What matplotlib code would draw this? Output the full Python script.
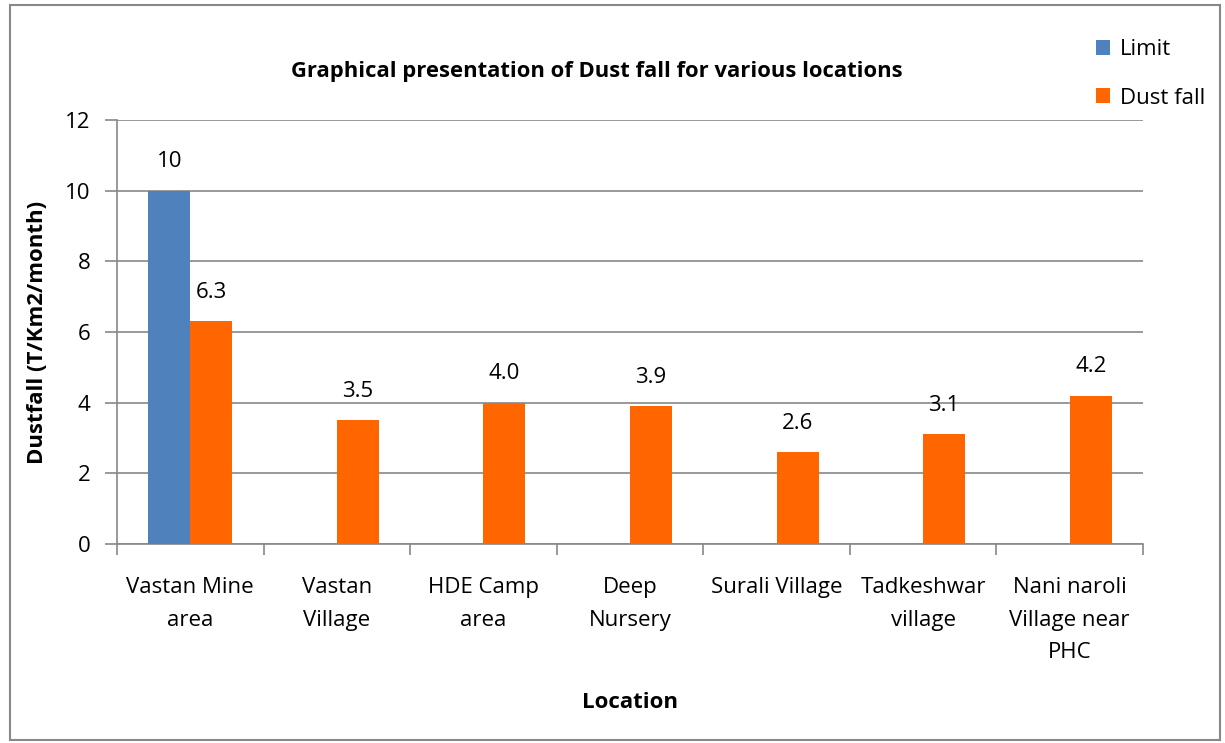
import matplotlib
matplotlib.use('Agg')
import matplotlib.pyplot as plt
import numpy as np

locations = ["Vastan Mine\narea", "Vastan\nVillage", "HDE Camp\narea", "Deep\nNursery",
             "Surali Village", "Tadkeshwar\nvillage", "Nani naroli\nVillage near\nPHC"]
limit = [10, np.nan, np.nan, np.nan, np.nan, np.nan, np.nan]
dust_fall = [6.3, 3.5, 4.0, 3.9, 2.6, 3.1, 4.2]

plt.rcParams['font.family'] = ['Open Sans', 'DejaVu Sans']

fig = plt.figure(figsize=(12.25, 7.43), dpi=100)
ax = fig.add_axes([117/1225, 1 - 544/743, (1143-117)/1225, (544-120)/743])

ind = np.arange(len(locations))
w = 0.287
b1 = ax.bar(ind - w/2, limit, w, color='#4F81BD', label='Limit', zorder=3)
b2 = ax.bar(ind + w/2, dust_fall, w, color='#FF6600', label='Dust fall', zorder=3)

for i, v in enumerate(limit):
    if not np.isnan(v):
        ax.text(ind[i] - w/2, v + 0.52, f"{v:g}", ha='center', va='bottom', fontsize=16)
for i, v in enumerate(dust_fall):
    ax.text(ind[i] + w/2, v + 0.52, f"{v:.1f}", ha='center', va='bottom', fontsize=16)

ax.set_xlim(-0.5, len(locations) - 0.5)
ax.set_ylim(0, 12)
ax.set_yticks(range(0, 13, 2))
ax.set_xticks(np.arange(-0.5, len(locations), 1), minor=False)
ax.set_xticklabels([])
ax.set_xticks(ind, minor=True)
ax.set_xticklabels(locations, minor=True, fontsize=16, linespacing=1.7, va='top')
ax.tick_params(axis='x', which='minor', length=0, pad=24)
ax.tick_params(axis='x', which='major', length=8, color='#888888', width=1.2, direction='out')
ax.tick_params(axis='y', length=9, color='#888888', width=1.2, labelsize=16, pad=10)

ax.yaxis.grid(True, color='#888888', linewidth=1.2, zorder=0)
for s in ['top', 'right']:
    ax.spines[s].set_visible(False)
for s in ['left', 'bottom']:
    ax.spines[s].set_color('#888888')
    ax.spines[s].set_linewidth(1.2)

ax.set_ylabel("Dustfall (T/Km2/month)", fontsize=16, fontweight='bold', labelpad=12)
ax.set_xlabel("Location", fontsize=16, fontweight='bold', labelpad=21)
fig.text(597/1225, 1 - 71/743, "Graphical presentation of Dust fall for various locations",
         ha='center', va='center', fontsize=15.8, fontweight='bold')

fig.legend(handles=[b1, b2], labels=['Limit', 'Dust fall'], loc='upper left',
           bbox_to_anchor=(1087/1225, 1 - 30/743), frameon=False, fontsize=16,
           handlelength=0.65, handleheight=0.65, handletextpad=0.45, labelspacing=1.25,
           borderaxespad=0)

fig.patches.append(plt.Rectangle((10/1225, 3/743), 1210/1225, 735/743, transform=fig.transFigure,
                                 fill=False, edgecolor='#888888', linewidth=1.5))

fig.savefig('out.png', dpi=100)
